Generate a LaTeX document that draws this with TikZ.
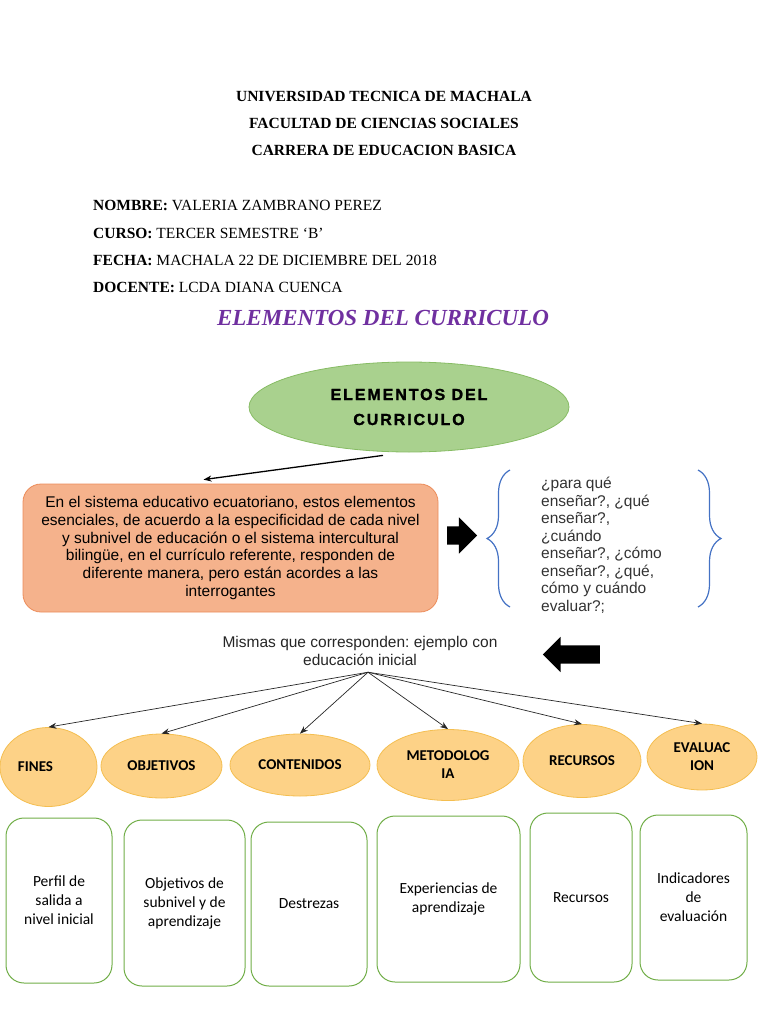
\documentclass[tikz,border=0pt]{standalone}
\usepackage{fontspec}
\setmainfont{Liberation Serif}
\setsansfont{Liberation Sans}
\newfontfamily\calibri{Carlito}
\newfontfamily\widesans[LetterSpace=12, FakeBold=1.5]{Liberation Sans Bold}
\usepackage{tikz}
\usetikzlibrary{calc,shapes.geometric,shapes.arrows,decorations.pathreplacing,arrows.meta}
\frenchspacing

\definecolor{leafgreen}{RGB}{169,209,142}
\definecolor{leafedge}{RGB}{135,188,100}
\definecolor{salmon}{RGB}{245,178,140}
\definecolor{salmonedge}{RGB}{236,140,90}
\definecolor{honey}{RGB}{253,210,135}
\definecolor{honeyedge}{RGB}{244,190,80}
\definecolor{boxgreen}{RGB}{112,173,71}
\definecolor{braceblue}{RGB}{68,114,196}
\definecolor{titlepurple}{RGB}{112,48,160}

\tikzset{
  head/.style={font=\fontsize{15.5}{18}\selectfont\bfseries},
  info/.style={anchor=west, inner sep=0, font=\fontsize{15.5}{18}\selectfont},
  topic/.style={ellipse, draw=leafedge, fill=leafgreen, line width=0.8pt, inner sep=0,
    minimum width=320, minimum height=90, align=center,
    font=\widesans\fontsize{16}{25}\selectfont},
  infobox/.style={draw=salmonedge, fill=salmon, line width=0.8pt, rounded corners=18,
    minimum width=415, minimum height=128, align=center,
    font=\sffamily\fontsize{15.5}{17.8}\selectfont},
  element/.style={ellipse, draw=honeyedge, fill=honey, line width=0.8pt, inner sep=0,
    align=center, font=\calibri\fontsize{15}{18}\selectfont\bfseries},
  detail/.style={draw=boxgreen, line width=1pt, rounded corners=18, align=center,
    font=\calibri\fontsize{15.5}{19}\selectfont},
  fanarrow/.style={-{Stealth[length=8pt,width=6pt]}, line width=0.7pt, black!85},
  bigarrow/.style={single arrow, fill=black, inner xsep=0, inner ysep=9, single arrow head indent=0},
  bluebrace/.style={decorate, decoration={brace, amplitude=23}, draw=braceblue, line width=1.2pt}
}

\begin{document}
\begin{tikzpicture}[x=1pt, y=-1pt]
    \useasboundingbox (0,0) rectangle (768,1024);
    % heading
    \node[head] (univ) at (384,96) {UNIVERSIDAD TECNICA DE MACHALA};
    \node[head] (facu) at (384,123) {FACULTAD DE CIENCIAS SOCIALES};
    \node[head] (carr) at (384,150) {CARRERA DE EDUCACION BASICA};
    % student data
    \node[info] (nombre) at (93,205) {\textbf{NOMBRE:} VALERIA ZAMBRANO PEREZ};
    \node[info] (curso) at (93,233) {\textbf{CURSO:} TERCER SEMESTRE `B'};
    \node[info] (fecha) at (93,260) {\textbf{FECHA:} MACHALA 22 DE DICIEMBRE DEL 2018};
    \node[info] (docente) at (93,287) {\textbf{DOCENTE:} LCDA DIANA CUENCA};
    \node[font=\fontsize{23}{26}\selectfont\bfseries\itshape, text=titlepurple] (title) at (383,318) {ELEMENTOS DEL CURRICULO};
    % main concept and explanation
    \node[topic] (elem) at (409,407) {ELEMENTOS DEL\\CURRICULO};
    \node[infobox] (expl) at (230.5,548) {En el sistema educativo ecuatoriano, estos elementos\\
      esenciales, de acuerdo a la especificidad de cada nivel\\
      y subnivel de educación o el sistema intercultural\\
      bilingüe, en el currículo referente, responden de\\
      diferente manera, pero están acordes a las\\
      interrogantes};
    \draw[-{Stealth[length=8pt,width=6pt]}, line width=1.3pt] ($(elem.south)+(-26,3)$) -- ($(expl.north)+(-27,-4)$);
    % questions between braces
    \node[bigarrow, minimum height=30, single arrow head extend=9] (rarr) at (457.5,535.5) {};
    \node[anchor=north west, inner sep=0, align=left, text=black!80,
      font=\sffamily\fontsize{15.5}{17.5}\selectfont] (quest) at (541,477) {¿para qué\\
      enseñar?, ¿qué\\enseñar?,\\¿cuándo\\enseñar?, ¿cómo\\enseñar?, ¿qué,\\cómo y cuándo\\evaluar?;};
    \coordinate (lbrace) at (510,470);
    \coordinate (rbrace) at (698,470);
    \draw[bluebrace] ($(lbrace)+(0,137)$) -- (lbrace);
    \draw[bluebrace] (rbrace) -- ($(rbrace)+(0,137)$);
    \node[bigarrow, minimum height=57, single arrow head extend=8.5, shape border rotate=180] (larr) at (576,654.5) {};
    % elements
    \node[align=center, text=black!85, font=\sffamily\fontsize{15.5}{18}\selectfont] (mismas) at (360,651) {Mismas que corresponden: ejemplo con\\educación inicial};
    \coordinate (fan) at ($(mismas.south)+(8,3)$);
    \node[element, minimum width=97, minimum height=79] (fines) at (48.5,767) {\hspace*{-26pt}FINES};
    \node[element, minimum width=121, minimum height=64] (objet) at (161.5,766) {OBJETIVOS};
    \node[element, minimum width=140, minimum height=62] (conte) at (300,765) {CONTENIDOS};
    \node[element, minimum width=142, minimum height=71] (metod) at (448,765) {METODOLOG\\IA};
    \node[element, minimum width=118, minimum height=73] (recur) at (582,761) {RECURSOS};
    \node[element, minimum width=110, minimum height=66] (evalu) at (702,757) {EVALUAC\\ION};
    \foreach \e in {fines,objet,conte,metod,recur,evalu}
      \draw[fanarrow] (fan) -- (\e.north);
    % details
    \node[detail, minimum width=106, minimum height=165] (perfil) at (59,900.5) {Perfil de\\salida a\\nivel inicial};
    \node[detail, minimum width=121, minimum height=166] (objsub) at (184.5,903) {Objetivos de\\subnivel y de\\aprendizaje};
    \node[detail, minimum width=116, minimum height=164] (destr) at (309,904) {Destrezas};
    \node[detail, minimum width=143, minimum height=166] (exper) at (448.5,899) {Experiencias de\\aprendizaje};
    \node[detail, minimum width=102, minimum height=169] (recdet) at (581,897.5) {Recursos};
    \node[detail, minimum width=107, minimum height=165] (indic) at (693.5,897.5) {Indicadores\\de\\evaluación};
\end{tikzpicture}
\end{document}
